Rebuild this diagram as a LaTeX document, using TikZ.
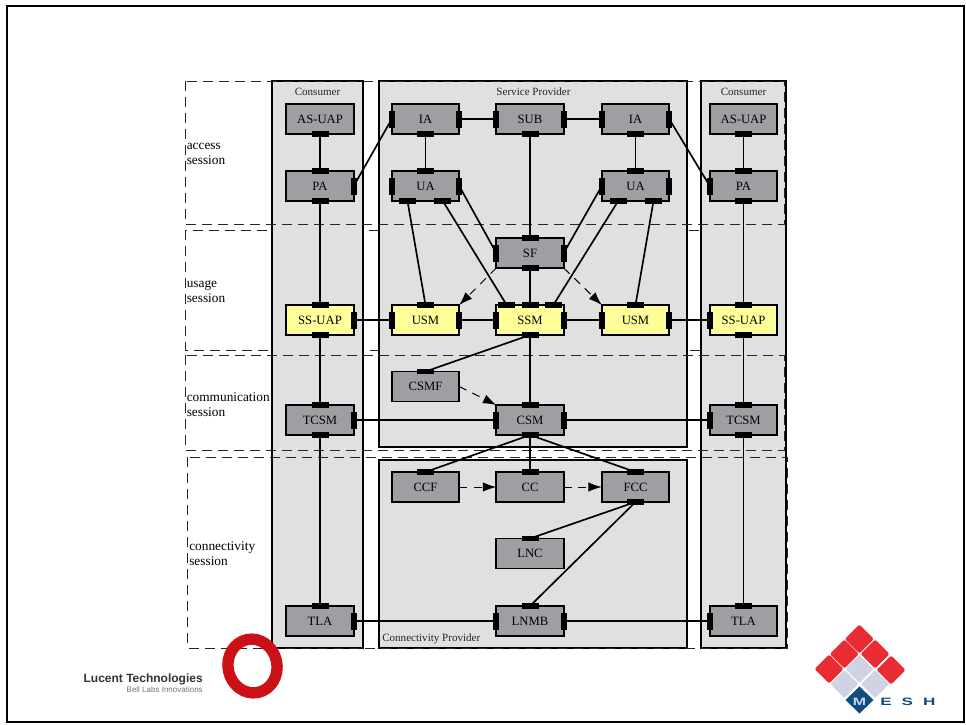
\documentclass[tikz,border=0pt]{standalone}
\usepackage{fontspec}
\setmainfont{Liberation Serif}
\newfontfamily\logofont{Liberation Sans}
\usetikzlibrary{arrows.meta,positioning}
\definecolor{boxgray}{HTML}{A09EA3}
\definecolor{panelgray}{HTML}{E0E0E0}
\definecolor{sessyellow}{HTML}{FFFF99}
\definecolor{lucentred}{HTML}{CC1018}
\definecolor{tilered}{HTML}{E92B33}
\definecolor{tilelav}{HTML}{D0D3E4}
\definecolor{meshblue}{HTML}{0F4C81}

\begin{document}
\begin{tikzpicture}[
  x=0.75pt, y=-0.75pt,
  panel/.style={draw, line width=1.35pt, fill=panelgray},
  sessionline/.style={draw=black!85, line width=0.75pt, dash pattern=on 7.5pt off 4.5pt},
  unit/.style={draw, line width=1.35pt, fill=boxgray, minimum width=50.6pt, minimum height=22.5pt,
    inner sep=0pt, outer sep=0pt, font=\fontsize{9.5}{11}\selectfont},
  sessunit/.style={unit, fill=sessyellow},
  porth/.style={fill=black, minimum width=12.75pt, minimum height=4.2pt, inner sep=0pt, outer sep=0pt},
  portv/.style={fill=black, minimum width=4.2pt, minimum height=12.75pt, inner sep=0pt, outer sep=0pt},
  link/.style={draw, line width=1.25pt},
  flow/.style={draw, line width=0.75pt, dash pattern=on 6pt off 5pt, -{Latex[length=10pt,width=7pt]}},
  sesslabel/.style={anchor=west, align=left, inner sep=0pt, font=\fontsize{10}{11.25}\selectfont},
  panellabel/.style={inner sep=0pt, text=black!85, font=\fontsize{8.3}{9}\selectfont}
]
\useasboundingbox (0,0) rectangle (966,724);
\draw[line width=1.5pt] (7,6) rectangle (963.5,722);

% usage session sits behind the panels
\draw[sessionline] (185.5,230) rectangle (770,350);

% panels
\draw[panel] (271.7,81) rectangle (363.3,648);
\draw[panel] (379.3,81) rectangle (687.3,446.7);
\draw[panel] (379.3,459.7) rectangle (687.3,648);
\draw[panel] (700.7,81) rectangle (786,648);

% the other sessions
\draw[sessionline] (185.5,81) rectangle (784,224.3);
\draw[sessionline] (185.5,355.3) rectangle (784,450.7);
\draw[sessionline] (187.7,457.3) rectangle (787,648);

\node[sesslabel] (accesslabel) at (186.5,154.2) {access\\session};
\node[sesslabel] (usagelabel) at (186.5,291.2) {usage\\session};
\node[sesslabel] (commlabel) at (186.5,405) {communication\\session};
\node[sesslabel] (connlabel) at (189,554) {connectivity\\session};

\node[panellabel] (consl) at (317.5,91.5) {Consumer};
\node[panellabel] (servprov) at (533.5,91.5) {Service Provider};
\node[panellabel] (consr) at (743.5,91.5) {Consumer};
\node[panellabel, anchor=west] (connprov) at (382,638.5) {Connectivity Provider};

% consumer, left
\node[unit] (asuapl) at (320,119) {AS-UAP};
\node[unit] (pal) at (320,186) {PA};
\node[sessunit] (ssuapl) at (320,320) {SS-UAP};
\node[unit] (tcsml) at (320,420) {TCSM};
\node[unit] (tlal) at (320,621) {TLA};

% service provider
\node[unit] (ial) at (425.5,119) {IA};
\node[unit] (sub) at (530,119) {SUB};
\node[unit] (iar) at (635.5,119) {IA};
\node[unit] (ual) at (425.5,186) {UA};
\node[unit] (uar) at (635.5,186) {UA};
\node[unit] (sf) at (530,253) {SF};
\node[sessunit] (usml) at (425.5,320) {USM};
\node[sessunit] (ssm) at (530,320) {SSM};
\node[sessunit] (usmr) at (635.5,320) {USM};
\node[unit] (csmf) at (425.5,386.5) {CSMF};
\node[unit] (csm) at (530,420) {CSM};

% connectivity provider
\node[unit] (ccf) at (425.5,487) {CCF};
\node[unit] (cc) at (530,487) {CC};
\node[unit] (fcc) at (635.5,487) {FCC};
\node[unit] (lnc) at (530,553.5) {LNC};
\node[unit] (lnmb) at (530,621) {LNMB};

% consumer, right
\node[unit] (asuapr) at (743.5,119) {AS-UAP};
\node[unit] (par) at (743.5,186) {PA};
\node[sessunit] (ssuapr) at (743.5,320) {SS-UAP};
\node[unit] (tcsmr) at (743.5,420) {TCSM};
\node[unit] (tlar) at (743.5,621) {TLA};

% ports
\foreach \n/\a in {asuapl/south,pal/north,pal/south,ssuapl/north,ssuapl/south,tcsml/north,tcsml/south,tlal/north,
    ial/south,sub/south,iar/south,ual/north,uar/north,sf/north,sf/south,usml/north,ssm/north,ssm/south,usmr/north,
    csmf/north,csm/north,csm/south,ccf/north,cc/north,fcc/north,fcc/south,lnc/north,lnmb/north,
    asuapr/south,par/north,par/south,ssuapr/north,ssuapr/south,tcsmr/north,tcsmr/south,tlar/north}
  \node[porth] at (\n.\a) {};
\foreach \n/\a in {pal/east,ssuapl/east,tcsml/east,tlal/east,
    ial/west,ial/east,sub/west,sub/east,iar/west,iar/east,ual/west,ual/east,uar/west,uar/east,sf/west,sf/east,
    usml/west,usml/east,ssm/west,ssm/east,usmr/west,usmr/east,csm/west,csm/east,lnmb/west,lnmb/east,
    par/west,ssuapr/west,tcsmr/west,tlar/west}
  \node[portv] at (\n.\a) {};
\node[porth] (uals) at ([xshift=-13.5pt]ual.south) {};
\node[porth] (ualt) at ([xshift=13pt]ual.south) {};
\node[porth] (uars) at ([xshift=-13pt]uar.south) {};
\node[porth] (uart) at ([xshift=13.5pt]uar.south) {};
\node[porth] (ssmr) at ([xshift=-17.5pt]ssm.north) {};
\node[porth] (ssmq) at ([xshift=17.5pt]ssm.north) {};

% session links
\draw[link] (asuapl) -- (pal);
\draw[link] (pal) -- (ssuapl);
\draw[link] (ssuapl) -- (tcsml);
\draw[link] (tcsml) -- (tlal);
\draw[link] (asuapr) -- (par);
\draw[link] (par) -- (ssuapr);
\draw[link] (ssuapr) -- (tcsmr);
\draw[link] (tcsmr) -- (tlar);
\draw[link] (pal.east) -- (ial.west);
\draw[link] (ial.east) -- (sub.west);
\draw[link] (sub.east) -- (iar.west);
\draw[link] (iar.east) -- (par.west);
\draw[link] (ial.south) -- (ual.north);
\draw[link] (iar.south) -- (uar.north);
\draw[link] (sub.south) -- (sf.north);
\draw[link] (ual.east) -- (sf.west);
\draw[link] (uar.west) -- (sf.east);
\draw[link] (uals.center) -- (usml.north);
\draw[link] (ualt.center) -- (ssmr.center);
\draw[link] (uars.center) -- (ssmq.center);
\draw[link] (uart.center) -- (usmr.north);
\draw[link] (sf.south) -- (ssm.north);
\draw[link] (ssuapl.east) -- (usml.west);
\draw[link] (usml.east) -- (ssm.west);
\draw[link] (ssm.east) -- (usmr.west);
\draw[link] (usmr.east) -- (ssuapr.west);
\draw[link] (ssm.south) -- (csmf.north);
\draw[link] (ssm.south) -- (csm.north);
\draw[link] (tcsml.east) -- (csm.west);
\draw[link] (csm.east) -- (tcsmr.west);
\draw[link] (csm.south) -- (ccf.north);
\draw[link] (csm.south) -- (cc.north);
\draw[link] (csm.south) -- (fcc.north);
\draw[link] (fcc.south) -- (lnc.north);
\draw[link] (fcc.south) -- (lnmb.north);
\draw[link] (tlal.east) -- (lnmb.west);
\draw[link] (lnmb.east) -- (tlar.west);

% dashed flows
\draw[flow] (sf.south west) -- (usml.north east);
\draw[flow] (sf.south east) -- (usmr.north west);
\draw[flow] (csmf.east) -- (csm.north west);
\draw[flow] (ccf.east) -- (cc.west);
\draw[flow] (cc.east) -- (fcc.west);

% lucent logo
\draw[lucentred, line width=8.5pt, rotate around={12:(252.5,666)}] (252.5,666) ellipse [x radius=24.5, y radius=27];
\node[inner sep=0pt, anchor=east, text=black!80, font=\logofont\bfseries\fontsize{9}{10}\selectfont] (lucent) at (203,679.5) {Lucent Technologies};
\node[inner sep=0pt, anchor=east, text=black!55, font=\logofont\fontsize{6}{7}\selectfont] (belllabs) at (203,690) {Bell Labs Innovations};

% mesh logo
\foreach \x/\y in {859.3/639,844.3/654,875/654,829/669,891/670}
  \fill[tilered, rounded corners=1.5pt, shift={(\x,\y)}] (-14.5,0) -- (0,-14.5) -- (14.5,0) -- (0,14.5) -- cycle;
\foreach \x/\y in {859.3/669,844.3/684,875/684}
  \fill[tilelav, rounded corners=1pt, shift={(\x,\y)}] (-14,0) -- (0,-14) -- (14,0) -- (0,14) -- cycle;
\fill[meshblue, shift={(859.5,700)}] (-14,0) -- (0,-13.5) -- (14,0) -- (0,13.5) -- cycle;
\node[inner sep=0pt, text=tilelav, font=\logofont\bfseries\fontsize{8}{10}\selectfont] (meshm) at (859.5,702) {\scalebox{1.5}[1]{M}};
\node[inner sep=0pt, anchor=west, text=meshblue, font=\logofont\bfseries\fontsize{8}{10}\selectfont] (meshesh) at (880,702) {\scalebox{1.6}[1]{E}\hspace{7.5pt}\scalebox{1.6}[1]{S}\hspace{7.5pt}\scalebox{1.6}[1]{H}};
\end{tikzpicture}
\end{document}
